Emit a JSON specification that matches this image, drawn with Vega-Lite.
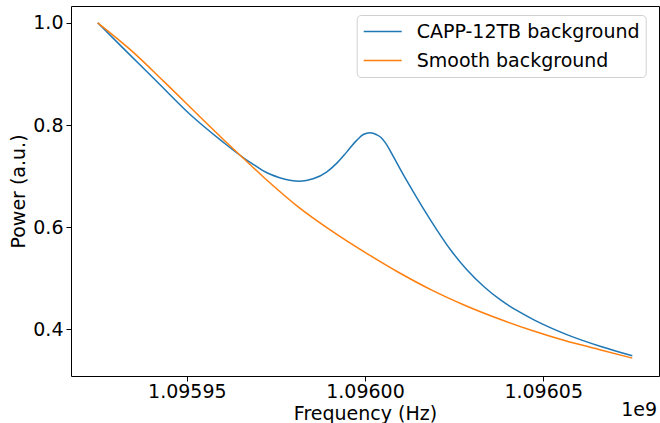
{
  "$schema": "https://vega.github.io/schema/vega-lite/v6.json",
  "width": 588,
  "height": 370,
  "autosize": {"type": "none"},
  "padding": {"left": 71, "top": 6, "right": 1, "bottom": 47},
  "background": "white",
  "config": {
    "font": "DejaVu Sans",
    "view": {"stroke": "#000000", "strokeWidth": 1},
    "axis": {
      "domain": false,
      "grid": false,
      "tickColor": "#000000",
      "tickSize": 5,
      "tickWidth": 1,
      "labelColor": "#000000",
      "labelFontSize": 19,
      "titleFontSize": 19,
      "titleFontWeight": "normal",
      "titleColor": "#000000",
      "labelFont": "DejaVu Sans",
      "titleFont": "DejaVu Sans"
    }
  },
  "layer": [
    {
      "data": {
        "values": [
          {"series": "CAPP-12TB background", "frequency": 1095925000, "power": 1.000},
          {"series": "CAPP-12TB background", "frequency": 1095931900, "power": 0.952},
          {"series": "CAPP-12TB background", "frequency": 1095941300, "power": 0.887},
          {"series": "CAPP-12TB background", "frequency": 1095950700, "power": 0.822},
          {"series": "CAPP-12TB background", "frequency": 1095960100, "power": 0.767},
          {"series": "CAPP-12TB background", "frequency": 1095966200, "power": 0.7345},
          {"series": "CAPP-12TB background", "frequency": 1095969014, "power": 0.7214},
          {"series": "CAPP-12TB background", "frequency": 1095971352, "power": 0.7107},
          {"series": "CAPP-12TB background", "frequency": 1095973240, "power": 0.7042},
          {"series": "CAPP-12TB background", "frequency": 1095976056, "power": 0.6970},
          {"series": "CAPP-12TB background", "frequency": 1095978873, "power": 0.6921},
          {"series": "CAPP-12TB background", "frequency": 1095981690, "power": 0.6902},
          {"series": "CAPP-12TB background", "frequency": 1095985437, "power": 0.6948},
          {"series": "CAPP-12TB background", "frequency": 1095989211, "power": 0.708},
          {"series": "CAPP-12TB background", "frequency": 1095992028, "power": 0.725},
          {"series": "CAPP-12TB background", "frequency": 1095994845, "power": 0.747},
          {"series": "CAPP-12TB background", "frequency": 1095997662, "power": 0.770},
          {"series": "CAPP-12TB background", "frequency": 1095999521, "power": 0.7815},
          {"series": "CAPP-12TB background", "frequency": 1096001408, "power": 0.785},
          {"series": "CAPP-12TB background", "frequency": 1096003296, "power": 0.781},
          {"series": "CAPP-12TB background", "frequency": 1096004507, "power": 0.7755},
          {"series": "CAPP-12TB background", "frequency": 1096005634, "power": 0.766},
          {"series": "CAPP-12TB background", "frequency": 1096006817, "power": 0.753},
          {"series": "CAPP-12TB background", "frequency": 1096007972, "power": 0.738},
          {"series": "CAPP-12TB background", "frequency": 1096010789, "power": 0.7023},
          {"series": "CAPP-12TB background", "frequency": 1096013606, "power": 0.6687},
          {"series": "CAPP-12TB background", "frequency": 1096016423, "power": 0.6359},
          {"series": "CAPP-12TB background", "frequency": 1096020197, "power": 0.5945},
          {"series": "CAPP-12TB background", "frequency": 1096023944, "power": 0.5564},
          {"series": "CAPP-12TB background", "frequency": 1096028648, "power": 0.5164},
          {"series": "CAPP-12TB background", "frequency": 1096033324, "power": 0.4842},
          {"series": "CAPP-12TB background", "frequency": 1096038028, "power": 0.4578},
          {"series": "CAPP-12TB background", "frequency": 1096042718, "power": 0.4367},
          {"series": "CAPP-12TB background", "frequency": 1096047408, "power": 0.4188},
          {"series": "CAPP-12TB background", "frequency": 1096056817, "power": 0.3895},
          {"series": "CAPP-12TB background", "frequency": 1096066197, "power": 0.3667},
          {"series": "CAPP-12TB background", "frequency": 1096075000, "power": 0.3485},
          {"series": "Smooth background", "frequency": 1095925000, "power": 1.000},
          {"series": "Smooth background", "frequency": 1095934375, "power": 0.946},
          {"series": "Smooth background", "frequency": 1095943750, "power": 0.884},
          {"series": "Smooth background", "frequency": 1095953125, "power": 0.820},
          {"series": "Smooth background", "frequency": 1095962500, "power": 0.757},
          {"series": "Smooth background", "frequency": 1095971875, "power": 0.696},
          {"series": "Smooth background", "frequency": 1095981250, "power": 0.640},
          {"series": "Smooth background", "frequency": 1095990625, "power": 0.593},
          {"series": "Smooth background", "frequency": 1096000000, "power": 0.551},
          {"series": "Smooth background", "frequency": 1096009375, "power": 0.512},
          {"series": "Smooth background", "frequency": 1096018750, "power": 0.477},
          {"series": "Smooth background", "frequency": 1096028125, "power": 0.447},
          {"series": "Smooth background", "frequency": 1096037500, "power": 0.421},
          {"series": "Smooth background", "frequency": 1096046875, "power": 0.398},
          {"series": "Smooth background", "frequency": 1096056250, "power": 0.378},
          {"series": "Smooth background", "frequency": 1096065625, "power": 0.361},
          {"series": "Smooth background", "frequency": 1096075000, "power": 0.344}
        ]
      },
      "mark": {"type": "line", "strokeWidth": 1.5, "interpolate": "monotone"},
      "encoding": {
        "x": {
          "field": "frequency",
          "type": "quantitative",
          "scale": {"domain": [1095917500, 1096082500], "nice": false, "zero": false},
          "axis": {
            "values": [1095950000, 1096000000, 1096050000],
            "labelExpr": "format(datum.value / 1e9, '.5f')",
            "title": "Frequency (Hz)",
            "labelPadding": 1,
            "titlePadding": 3
          }
        },
        "y": {
          "field": "power",
          "type": "quantitative",
          "scale": {"domain": [0.309, 1.0329], "nice": false, "zero": false},
          "axis": {
            "values": [0.4, 0.6, 0.8, 1.0],
            "format": ".1f",
            "title": "Power (a.u.)",
            "labelPadding": 3,
            "titlePadding": 4
          }
        },
        "color": {
          "field": "series",
          "type": "nominal",
          "scale": {
            "domain": ["CAPP-12TB background", "Smooth background"],
            "range": ["#1f77b4", "#ff7f0e"]
          },
          "legend": {
            "title": null,
            "orient": "none",
            "legendX": 285.7,
            "legendY": 9,
            "symbolType": "M-1,0H3",
            "symbolSize": 361,
            "symbolStrokeWidth": 1.5,
            "symbolFillColor": "transparent",
            "labelFontSize": 19,
            "labelFont": "DejaVu Sans",
            "labelColor": "#000000",
            "padding": 6,
            "rowPadding": 8,
            "labelOffset": 33,
            "labelLimit": 400,
            "strokeColor": "#d0d0d0",
            "cornerRadius": 4,
            "fillColor": "white"
          }
        }
      }
    },
    {
      "data": {"values": [{"offsetLabel": "1e9"}]},
      "mark": {
        "type": "text",
        "align": "right",
        "baseline": "alphabetic",
        "dx": -2,
        "dy": 40,
        "fontSize": 19,
        "font": "DejaVu Sans",
        "color": "#000000"
      },
      "encoding": {
        "text": {"field": "offsetLabel", "type": "nominal"},
        "x": {"datum": 1096082500, "type": "quantitative"},
        "y": {"datum": 0.309, "type": "quantitative"}
      }
    }
  ]
}
